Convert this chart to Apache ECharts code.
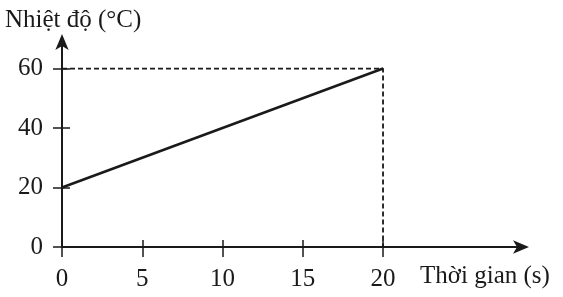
<!DOCTYPE html>
<html><head><meta charset="utf-8">
<script src="https://cdn.jsdelivr.net/npm/echarts@6/dist/echarts.min.js"></script>
<style>html,body{margin:0;padding:0;background:#fff}#c{width:563px;height:297px}</style>
</head><body><div id="c"></div>
<script>
var timeValues = [0, 20];
var tempValues = [20, 60];
var xTicks = [0, 5, 10, 15, 20];
var yTicks = [0, 20, 40, 60];
var guideX = [0, 20, 20];
var guideY = [60, 60, 0];

var FONT = 'Liberation Serif';
var FS = 25;
var INK = '#1a1a1a';
var chart = echarts.init(document.getElementById('c'));
var xMax = 28.72, yMax = 69.6;
function xAx(inside, main) {
  return {
    type: 'value', min: 0, max: xMax, position: 'bottom',
    axisLine: {show: main, onZero: false, lineStyle: {color: INK, width: 2}, symbol: ['none', 'arrow'], symbolSize: [10, 16], symbolOffset: [0, 6]},
    axisTick: {show: true, inside: inside, length: inside ? 7 : 10, customValues: xTicks, lineStyle: {color: INK, width: 1.5}},
    axisLabel: {show: main, customValues: xTicks, fontFamily: FONT, fontSize: FS, color: INK, margin: 20},
    splitLine: {show: false},
    name: main ? 'Thời gian (s)' : '', nameLocation: 'end', nameGap: -103,
    nameTextStyle: {fontFamily: FONT, fontSize: FS, color: INK, align: 'left', verticalAlign: 'top', padding: [17, 0, 0, 0]}
  };
}
function yAx(inside, main) {
  return {
    type: 'value', min: 0, max: yMax, position: 'left',
    axisLine: {show: main, onZero: false, lineStyle: {color: INK, width: 2}, symbol: ['none', 'arrow'], symbolSize: [10, 16], symbolOffset: [0, 6]},
    axisTick: {show: true, inside: inside, length: inside ? 8 : 9, customValues: yTicks, lineStyle: {color: INK, width: 1.5}},
    axisLabel: {show: main, customValues: yTicks, fontFamily: FONT, fontSize: FS, color: INK, margin: 19},
    splitLine: {show: false},
    name: main ? 'Nhiệt độ (°C)' : '', nameLocation: 'end', nameGap: 7,
    nameTextStyle: {fontFamily: FONT, fontSize: FS, color: INK, align: 'left', padding: [0, 0, 0, -57]}
  };
}
chart.setOption({
  animation: false,
  grid: {left: 62, right: 40, top: 40, bottom: 50},
  xAxis: [xAx(false, true), xAx(true, false)],
  yAxis: [yAx(false, true), yAx(true, false)],
  series: [
    {type: 'line', data: guideX.map(function (x, i) { return [x, guideY[i]]; }), symbol: 'none',
     lineStyle: {color: INK, width: 1.8, type: [5, 3]}, z: 1},
    {type: 'line', data: timeValues.map(function (x, i) { return [x, tempValues[i]]; }), symbol: 'none',
     lineStyle: {color: INK, width: 2.6}, z: 3}
  ]
});
</script></body></html>
